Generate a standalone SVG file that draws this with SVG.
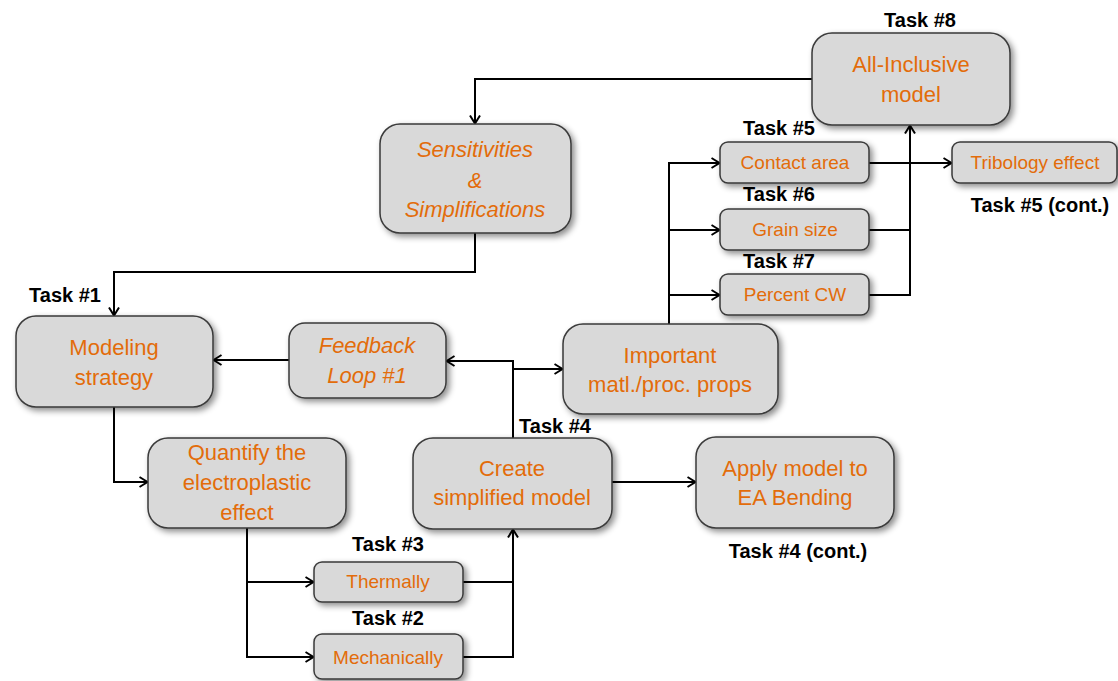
<svg xmlns="http://www.w3.org/2000/svg" width="1118" height="681" viewBox="0 0 1118 681">
<style>
.box{fill:#d9d9d9;stroke:#3a3a3a;stroke-width:1.5;filter:url(#sh)}
.t{font-family:"Liberation Sans",Arial,sans-serif;font-size:22px;fill:#e36c0a;text-anchor:middle}
.s{font-family:"Liberation Sans",Arial,sans-serif;font-size:19px;fill:#e36c0a;text-anchor:middle}
.i{font-style:italic}
.lab{font-family:"Liberation Sans",Arial,sans-serif;font-size:20px;font-weight:bold;fill:#000;text-anchor:middle}
.c{fill:none;stroke:#000;stroke-width:2}
.a{marker-end:url(#ar)}
</style>
<defs>
<filter id="sh" x="-20%" y="-20%" width="140%" height="150%">
<feDropShadow dx="3" dy="3" stdDeviation="3" flood-color="#000" flood-opacity="0.45"/>
</filter>
<marker id="ar" markerUnits="userSpaceOnUse" viewBox="0 0 10 12" markerWidth="10" markerHeight="12" refX="9.5" refY="6" orient="auto">
<path d="M1,1 L9,6 L1,11" fill="none" stroke="#000" stroke-width="2"/>
</marker>
</defs>
<rect width="1118" height="681" fill="#fff"/>
<g id="connectors">
<path class="c a" d="M812,79 H475 V124"/>
<path class="c a" d="M475,233 V272 H114 V316"/>
<path class="c a" d="M114,407 V482 H148"/>
<path class="c a" d="M247,528 V657 H314"/>
<path class="c a" d="M247,582 H314"/>
<path class="c" d="M463,582 H512"/>
<path class="c a" d="M463,657 H513 V529"/>
<path class="c a" d="M513,438 V361 H446"/>
<path class="c a" d="M513,369 H563"/>
<path class="c a" d="M289,360 H213"/>
<path class="c a" d="M612,482 H696"/>
<path class="c a" d="M669,324 V163 H720"/>
<path class="c a" d="M669,230 H720"/>
<path class="c a" d="M669,295 H720"/>
<path class="c a" d="M869,295 H910 V125"/>
<path class="c" d="M869,230 H910"/>
<path class="c a" d="M869,163 H952"/>
</g>
<g id="task8"><rect class="box" x="812" y="33" width="198" height="92" rx="20"/><text class="t" x="911" y="72">All-Inclusive</text><text class="t" x="911" y="102">model</text><text class="lab" x="920" y="27">Task #8</text></g>
<g id="sens"><rect class="box" x="380" y="124" width="191" height="109" rx="20"/><text class="t i" x="475" y="157">Sensitivities</text><text class="t i" x="475" y="188">&amp;</text><text class="t i" x="475" y="217">Simplifications</text></g>
<g id="task5"><rect class="box" x="720" y="142" width="149" height="41" rx="8"/><text class="s" x="795" y="169">Contact area</text><text class="lab" x="779" y="135">Task #5</text></g>
<g id="task6"><rect class="box" x="720" y="209" width="149" height="41" rx="8"/><text class="s" x="795" y="236">Grain size</text><text class="lab" x="779" y="201">Task #6</text></g>
<g id="task7"><rect class="box" x="720" y="274" width="149" height="41" rx="8"/><text class="s" x="795" y="301">Percent CW</text><text class="lab" x="779" y="268">Task #7</text></g>
<g id="tribo"><rect class="box" x="952" y="142" width="165" height="41" rx="8"/><text class="s" x="1035" y="169">Tribology effect</text><text class="lab" x="1040" y="212">Task #5 (cont.)</text></g>
<g id="task1"><rect class="box" x="16" y="316" width="197" height="91" rx="20"/><text class="t" x="114" y="355">Modeling</text><text class="t" x="114" y="385">strategy</text><text class="lab" x="65" y="302">Task #1</text></g>
<g id="feedback"><rect class="box" x="289" y="323" width="157" height="75" rx="16"/><text class="t i" x="367" y="353">Feedback</text><text class="t i" x="367" y="383">Loop #1</text></g>
<g id="important"><rect class="box" x="563" y="324" width="215" height="90" rx="20"/><text class="t" x="670" y="363">Important</text><text class="t" x="670" y="392">matl./proc. props</text></g>
<g id="quantify"><rect class="box" x="148" y="438" width="198" height="90" rx="20"/><text class="t" x="247" y="460">Quantify the</text><text class="t" x="247" y="490">electroplastic</text><text class="t" x="247" y="520">effect</text></g>
<g id="task4"><rect class="box" x="413" y="438" width="199" height="91" rx="20"/><text class="t" x="512" y="476">Create</text><text class="t" x="512" y="505">simplified model</text><text class="lab" x="555" y="433">Task #4</text></g>
<g id="apply"><rect class="box" x="696" y="437" width="198" height="91" rx="20"/><text class="t" x="795" y="476">Apply model to</text><text class="t" x="795" y="505">EA Bending</text><text class="lab" x="798" y="558">Task #4 (cont.)</text></g>
<g id="task3"><rect class="box" x="314" y="562" width="149" height="40" rx="8"/><text class="s" x="388" y="588">Thermally</text><text class="lab" x="388" y="551">Task #3</text></g>
<g id="task2"><rect class="box" x="314" y="634" width="149" height="45" rx="8"/><text class="s" x="388" y="664">Mechanically</text><text class="lab" x="388" y="625">Task #2</text></g>
</svg>
